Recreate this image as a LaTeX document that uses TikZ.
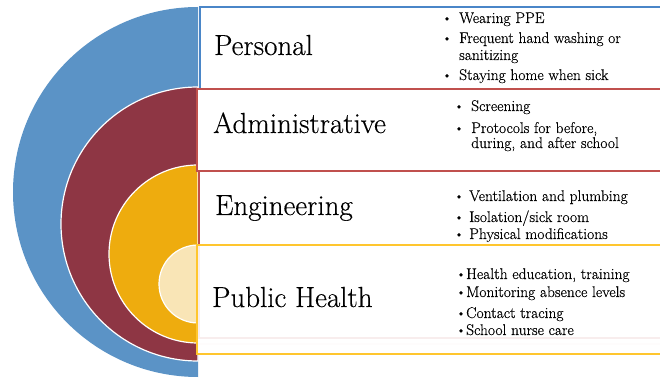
\documentclass[tikz,border=0pt]{standalone}
\usepackage{fontspec}
\setmainfont{Latin Modern Roman}[FakeBold=0.35]
\usepackage{tikz}
\usetikzlibrary{positioning}
\definecolor{ringblue}{HTML}{5B93C6}
\definecolor{ringmaroon}{HTML}{8E3644}
\definecolor{ringgold}{HTML}{EEAC0E}
\definecolor{ringcream}{HTML}{F9E5B6}
\definecolor{edgeblue}{HTML}{4A86C8}
\definecolor{edgered}{HTML}{C0504D}
\definecolor{edgegold}{HTML}{FFC62E}

\begin{document}
\begin{tikzpicture}[x=1pt,y=1pt,
  ring/.style={draw=white,line width=1.2pt},
  tier/.style={draw,fill=white,anchor=north west,minimum width=480pt,inner sep=0pt,line width=1.7pt},
  tiername/.style={anchor=base west,font=\fontsize{29}{34}\selectfont,inner sep=0pt},
  bul/.style={anchor=base,font=\fontsize{15.5}{17}\selectfont,inner sep=0pt},
  itemtext/.style={anchor=base west,font=\fontsize{15.5}{17}\selectfont,inner sep=0pt}
]
\useasboundingbox (0,0) rectangle (660,377);
\fill[ringblue] (198,370) arc[start angle=90,end angle=270,radius=185] -- cycle;
\filldraw[ring,fill=ringmaroon] (198,290) arc[start angle=90,end angle=270,radius=137] -- cycle;
\filldraw[ring,fill=ringgold] (198,212) arc[start angle=90,end angle=270,radius=89] -- cycle;
\filldraw[ring,fill=ringcream] (198,132) arc[start angle=90,end angle=270,radius=39] -- cycle;
\node[tier,draw=edgeblue,minimum height=82pt] (boxP) at (199,371) {};
\node[tier,draw=edgered,minimum height=82pt] (boxA) at (196,289) {};
\node[tier,draw=edgered,minimum height=167pt] (boxE) at (198,207) {};
\draw[edgered!12,line width=1.3pt] (198,33) -- (670,33);
\fill[white,opacity=0.9] (196,133) rectangle (670,24);
\node[tier,draw=edgegold,fill=none,minimum height=109pt] (boxH) at (196,133) {};
\node[tiername] (nameP) at (214,322) {Personal};
\node[tiername] (nameA) at (213,244) {Administrative};
\node[tiername] (nameE) at (215,162) {Engineering};
\node[tiername] (nameH) at (212,70) {Public Health};
\node[bul] (bP1) at (447,354) {\textbullet};
\node[itemtext] (iP1) at (459,354) {Wearing PPE};
\node[bul] (bP2) at (447,334) {\textbullet};
\node[itemtext] (iP2) at (459,334) {Frequent hand washing or};
\node[itemtext] (iP2b) at (459,317) {sanitizing};
\node[bul] (bP3) at (447,297) {\textbullet};
\node[itemtext] (iP3) at (459,297) {Staying home when sick};
\node[bul] (bA1) at (459,266) {\textbullet};
\node[itemtext] (iA1) at (471,266) {Screening};
\node[bul] (bA2) at (459,244) {\textbullet};
\node[itemtext] (iA2) at (471,244) {Protocols for before,};
\node[itemtext] (iA2b) at (471,229) {during, and after school};
\node[bul] (bE1) at (459,176) {\textbullet};
\node[itemtext] (iE1) at (469,176) {Ventilation and plumbing};
\node[bul] (bE2) at (459,155) {\textbullet};
\node[itemtext] (iE2) at (469,155) {Isolation/sick room};
\node[bul] (bE3) at (459,138) {\textbullet};
\node[itemtext] (iE3) at (469,138) {Physical modifications};
\node[bul] (bH1) at (461,98) {\textbullet};
\node[itemtext] (iH1) at (466,98) {Health education, training};
\node[bul] (bH2) at (461,80) {\textbullet};
\node[itemtext] (iH2) at (466,80) {Monitoring absence levels};
\node[bul] (bH3) at (461,59) {\textbullet};
\node[itemtext] (iH3) at (466,59) {Contact tracing};
\node[bul] (bH4) at (461,42) {\textbullet};
\node[itemtext] (iH4) at (466,42) {School nurse care};
\end{tikzpicture}
\end{document}
